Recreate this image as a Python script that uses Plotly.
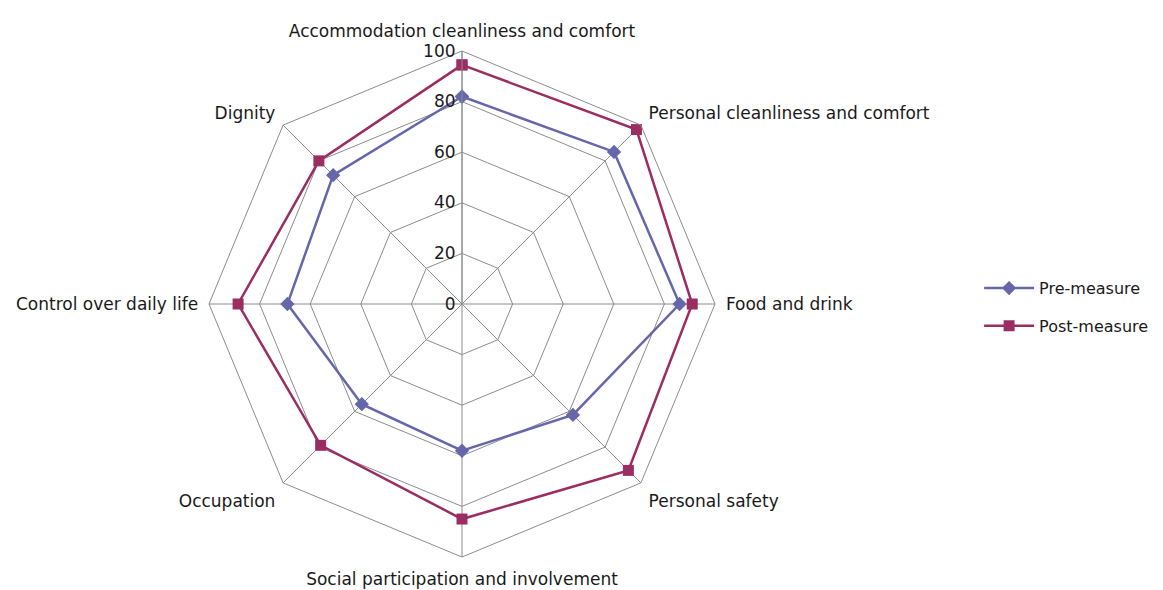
import plotly.graph_objects as go

categories = [
    "Accommodation cleanliness and comfort",
    "Personal cleanliness and comfort",
    "Food and drink",
    "Personal safety",
    "Social participation and involvement",
    "Occupation",
    "Control over daily life",
    "Dignity",
]
pre_measure = [82, 85, 86, 62, 58, 56, 69, 72]
post_measure = [94.5, 97.5, 91, 93, 85, 79, 88.5, 80]
radial_ticks = [0, 20, 40, 60, 80, 100]

W, H = 1163, 590
cx, cy, R = 454, 296, 253

def closed(v):
    return list(v) + [v[0]]

fig = go.Figure()
fig.add_trace(go.Scatterpolar(
    r=closed(pre_measure), theta=closed(categories), name="Pre-measure",
    mode="lines+markers", legendgroup="pre",
    line=dict(color="#6667AB", width=2.5),
    marker=dict(symbol="diamond", size=11, color="#6667AB"),
))
fig.add_trace(go.Scatterpolar(
    r=closed(post_measure), theta=closed(categories), name="Post-measure",
    mode="lines+markers", legendgroup="post",
    line=dict(color="#9B2D62", width=2.5),
    marker=dict(symbol="square", size=11, color="#9B2D62"),
))

fig.update_layout(
    width=W, height=H,
    margin=dict(l=0, r=0, t=0, b=0),
    paper_bgcolor="white", plot_bgcolor="white",
    font=dict(family="DejaVu Sans", size=17, color="#1a1a1a"),
    polar=dict(
        domain=dict(x=[(cx - R) / W, (cx + R) / W], y=[1 - (cy + R) / H, 1 - (cy - R) / H]),
        gridshape="linear",
        bgcolor="white",
        angularaxis=dict(
            direction="clockwise", rotation=90,
            showline=True, linecolor="#8c8c8c", linewidth=1,
            showgrid=True, gridcolor="#8c8c8c", gridwidth=1,
            ticks="outside", ticklen=7, tickcolor="rgba(0,0,0,0)",
            tickfont=dict(size=17, color="#1a1a1a"),
        ),
        radialaxis=dict(
            range=[0, 100], tickvals=radial_ticks, ticktext=[str(t) for t in radial_ticks],
            angle=90, tickangle=90, side="counterclockwise",
            showline=True, linecolor="#8c8c8c", linewidth=1,
            showgrid=True, gridcolor="#8c8c8c", gridwidth=1,
            ticks="", tickfont=dict(size=17, color="#1a1a1a"),
        ),
    ),
    legend=dict(
        x=0.835, y=0.493, xanchor="left", yanchor="middle",
        font=dict(size=16, color="#1a1a1a"),
        tracegroupgap=14, itemwidth=50,
    ),
)

fig.write_html("out.html")
